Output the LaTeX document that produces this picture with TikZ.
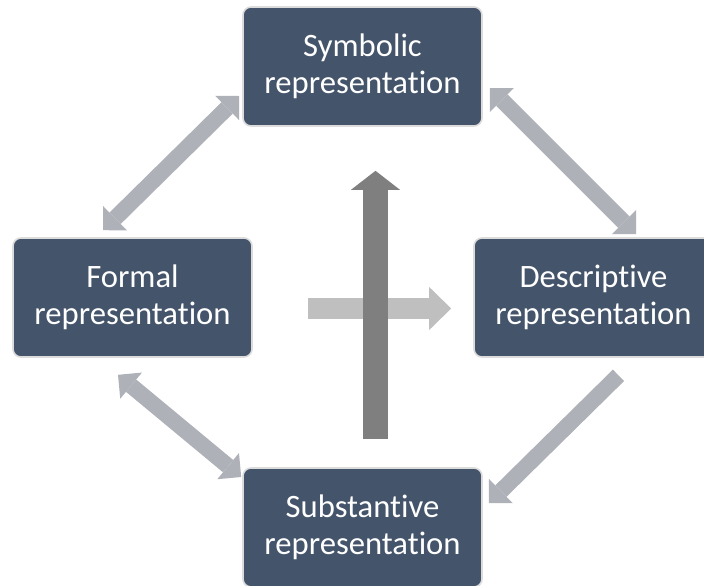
\documentclass[tikz,border=0pt]{standalone}
\usepackage{fontspec}
\setmainfont{Carlito}[Ligatures=NoCommon]
\usetikzlibrary{arrows.meta,calc}
\definecolor{slate}{HTML}{44546A}
\definecolor{boxedge}{HTML}{DCDCDC}
\definecolor{linkgray}{HTML}{AEB1B8}
\definecolor{upgray}{HTML}{7F7F7F}
\definecolor{rightgray}{HTML}{BFBFBF}

\begin{document}
\begin{tikzpicture}[x=0.75pt, y=-0.75pt,
  repbox/.style={draw=boxedge, line width=1.2pt, fill=slate, rounded corners=6pt,
    text=white, align=center, inner sep=0pt,
    minimum width=179.25pt, minimum height=89.25pt,
    font=\fontsize{24.5}{27.5}\selectfont},
  link/.style={draw=linkgray, line width=12pt, -{Triangle[width=25.5pt, length=12.75pt, line width=0pt]}},
  bilink/.style={draw=linkgray, line width=12pt,
    {Triangle[width=25.5pt, length=12.75pt, line width=0pt]}-{Triangle[width=25.5pt, length=12.75pt, line width=0pt]}}]
\useasboundingbox (0,0) rectangle (704,586);
\clip (0,0) rectangle (704,586);

% the four representations
\node[repbox] (sym) at (362.5,66.5) {Symbolic\\representation};
\node[repbox] (formal) at (132.5,297.5) {Formal\\representation};
\node[repbox] (desc) at (593.5,297.5) {Descriptive\\representation};
\node[repbox] (subst) at (362.5,527.5) {Substantive\\representation};

% links round the cycle
\draw[bilink] ($(sym.west)+(-3,29.5)$) -- ($(formal.north)+(-29.5,-7)$);
\draw[bilink] ($(sym.east)+(7,21.5)$) -- ($(desc.north)+(42.5,-3)$);
\draw[bilink] ($(formal.south)+(-14.5,17)$) -- ($(subst.west)+(-1,-50.5)$);
\draw[link] ($(desc.south)+(25,17.5)$) -- ($(subst.east)+(6,-24.5)$);

% the cross in the middle
\draw[draw=rightgray, line width=15.75pt, -{Triangle[width=32.25pt, length=16.5pt, line width=0pt]}]
  ($(formal.east)+(55,11)$) -- ($(desc.west)+(-22,11)$);
\draw[draw=upgray, line width=18.75pt, -{Triangle[width=36.75pt, length=14.25pt, line width=0pt]}]
  ($(subst.north)+(13,-28)$) -- ($(sym.south)+(13,44)$);
\end{tikzpicture}
\end{document}
